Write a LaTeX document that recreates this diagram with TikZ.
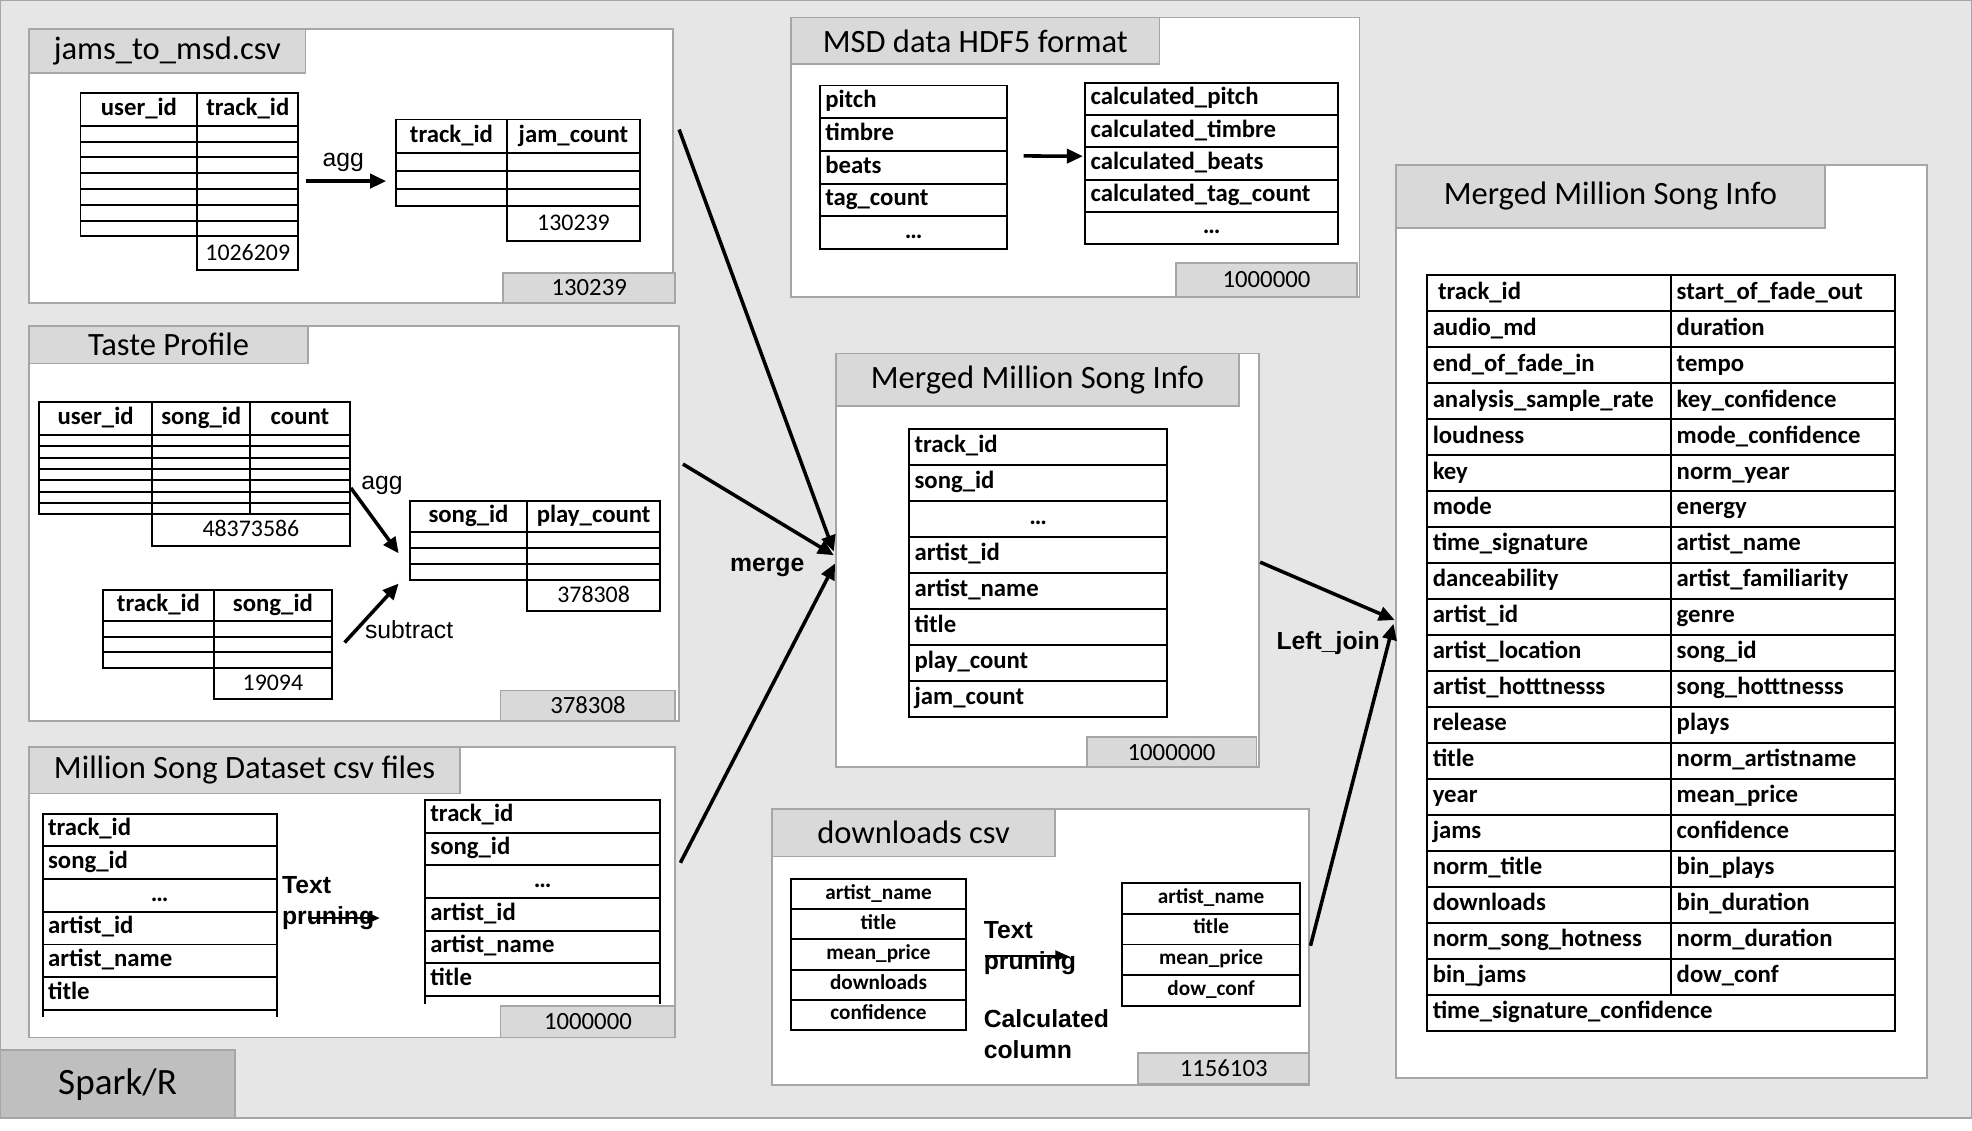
\documentclass[tikz,border=0pt]{standalone}
\usepackage{fontspec}
\setmainfont{Carlito}
\newfontfamily\arialfont{Liberation Sans}
\usepackage{tikz}
\usetikzlibrary{arrows.meta, positioning, calc}

\definecolor{bggray}{RGB}{230,230,230}
\definecolor{framegray}{RGB}{166,166,166}
\definecolor{tabgray}{RGB}{217,217,217}
\definecolor{sparkgray}{RGB}{191,191,191}
\newcommand{\pxu}{0.025cm}
\newcommand{\ctext}[1]{\hspace*{\fill}#1\hspace*{\fill}\mbox{}}

\tikzset{
    gridbox/.style 2 args={anchor=north west, minimum width=#1*\pxu, minimum height=#2*\pxu,
        inner sep=0pt, outer sep=0pt},
    panel/.style 2 args={gridbox={#1}{#2}, draw=framegray, line width=1pt, fill=white},
    tabbox/.style 2 args={gridbox={#1}{#2}, draw=framegray, line width=1pt, fill=tabgray,
        font=\fontsize{18.4}{22}\selectfont},
    countbox/.style 2 args={gridbox={#1}{#2}, draw=framegray, line width=1pt, fill=tabgray,
        font=\fontsize{14}{16}\selectfont},
    blank/.style 2 args={gridbox={#1}{#2}, draw, line width=1.1pt},
    cell/.style 2 args={blank={#1}{#2}, text height=9.5pt, text depth=3pt,
        font=\bfseries\fontsize{14}{16}\selectfont},
    lcell/.style 2 args={cell={#1}{#2}, text width=#1*\pxu-6pt, align=left},
    smallcell/.style 2 args={blank={#1}{#2}, text height=8pt, text depth=2.5pt,
        font=\bfseries\fontsize{12}{14}\selectfont},
    numcell/.style 2 args={blank={#1}{#2}, text height=9.5pt, text depth=2pt,
        font=\fontsize{13.5}{16}\selectfont}
}

\begin{document}
\begin{tikzpicture}[
    x=0.025cm, y=-0.025cm,
    lbl/.style={inner sep=0pt, font=\arialfont\fontsize{14}{17.5}\selectfont},
    boldlbl/.style={inner sep=0pt, font=\arialfont\bfseries\fontsize{14}{17.5}\selectfont, align=left},
    fat/.style={line width=2pt, -{Triangle[length=9pt, width=8pt]}},
    slim/.style={line width=1.3pt, -{Triangle[length=7pt, width=6pt]}}
]

\fill[white] (0,0) rectangle (1568,899);
\useasboundingbox (0,0) rectangle (1568,899);
\node[gridbox={1568}{889}, draw=framegray, line width=1.5pt, fill=bggray] (canvas) at (0,0) {};
\node[gridbox={187}{54}, draw=framegray, line width=1pt, fill=sparkgray,
    font=\fontsize{21}{24}\selectfont] (spark) at (0,835) {Spark/R};

% jams_to_msd.csv
\node[panel={512}{218}] (jams) at (23,23) {};
\node[tabbox={220}{35}] (jamsT) at (23,23) {jams\_to\_msd.csv};
\node[countbox={137}{24}] (jamsN) at (400,217) {130239};
\node[cell={93}{26}] (a1h1) at (64,74) {user\_id};
\node[cell={80}{26}] (a1h2) at (157,74) {track\_id};
\foreach \i in {0,...,6} {
    \node[blank={93}{12.57}] (a1l\i) at (64,100+12.57*\i) {};
    \node[blank={80}{12.57}] (a1r\i) at (157,100+12.57*\i) {};
}
\node[numcell={80}{27}] (a1n) at (157,188) {1026209};
\node[cell={88}{27}] (a2h1) at (315,95) {track\_id};
\node[cell={106}{27}] (a2h2) at (403,95) {jam\_count};
\foreach \i in {0,1,2} {
    \node[blank={88}{14}] (a2l\i) at (315,122+14*\i) {};
    \node[blank={106}{14}] (a2r\i) at (403,122+14*\i) {};
}
\node[numcell={106}{28}] (a2n) at (403,164) {130239};
\draw[fat] ($(a1r3.east)+(6,0)$) -- ($(a1r3.east -| a2l0.west)+(-8,0)$);
\node[lbl] (aggA) at (273,129) {agg};

% Taste Profile
\node[panel={517}{314}] (taste) at (23,259) {};
\node[tabbox={222}{30}] (tasteT) at (23,259) {Taste Profile};
\node[countbox={139}{24}] (tasteN) at (398,549) {378308};
\node[cell={90}{26}] (b1h1) at (31,320) {user\_id};
\node[cell={78}{26}] (b1h2) at (121,320) {song\_id};
\node[cell={79}{26}] (b1h3) at (199,320) {count};
\foreach \i in {0,...,6} {
    \node[blank={90}{9}] (b1a\i) at (31,346+9*\i) {};
    \node[blank={78}{9}] (b1b\i) at (121,346+9*\i) {};
    \node[blank={79}{9}] (b1c\i) at (199,346+9*\i) {};
}
\node[numcell={157}{25}] (b1n) at (121,409) {48373586};
\node[cell={93}{25}] (b2h1) at (326,398) {song\_id};
\node[cell={106}{25}] (b2h2) at (419,398) {play\_count};
\foreach \i in {0,1,2} {
    \node[blank={93}{12.7}] (b2a\i) at (326,423+12.7*\i) {};
    \node[blank={106}{12.7}] (b2b\i) at (419,423+12.7*\i) {};
}
\node[numcell={106}{25}] (b2n) at (419,461) {378308};
\node[cell={88}{25}] (b3h1) at (82,469) {track\_id};
\node[cell={94}{25}] (b3h2) at (170,469) {song\_id};
\foreach \i in {0,1,2} {
    \node[blank={88}{12.3}] (b3a\i) at (82,494+12.3*\i) {};
    \node[blank={94}{12.3}] (b3b\i) at (170,494+12.3*\i) {};
}
\node[numcell={94}{25}] (b3n) at (170,531) {19094};
\draw[fat] ($(b1c6.south east)+(1,-21)$) -- ($(b2h1.south west)+(-9,17)$);
\draw[fat] ($(b3b2.south east)+(10,-20)$) -- ($(b2h1.south west)+(-9,41)$);
\node[lbl, anchor=west] (aggB) at (287,386) {agg};
\node[lbl, anchor=west] (subtractB) at (290,501) {subtract};

% Million Song Dataset csv files
\node[panel={514}{231}] (msdcsv) at (23,594) {};
\node[tabbox={343}{37}] (msdcsvT) at (23,594) {Million Song Dataset csv files};
\node[countbox={139}{25}] (msdcsvN) at (398,800) {1000000};
\foreach \field [count=\i from 0] in {track\_id, song\_id, \ctext{\ldots}, artist\_id, artist\_name, title} {
    \node[lcell={186}{26}] (c1r\i) at (34,647+26*\i) {\field};
    \node[lcell={187}{26}] (c2r\i) at (338,636+26*\i) {\field};
}
\draw[line width=1.1pt] (c1r5.south west) -- ++(0,6) (c1r5.south east) -- ++(0,6);
\draw[line width=1.1pt] (c2r5.south west) -- ++(0,6) (c2r5.south east) -- ++(0,6);
\node[boldlbl, anchor=base west] (pruneC) at (224,735) {Text\\pruning};
\draw[slim] ($(c1r3.north east)+(25,5)$) -- ($(c2r3.west)+(-36,3)$);

% MSD data HDF5 format
\node[panel={452}{222}] (hdf) at (629,14) {};
\node[tabbox={293}{37}] (hdfT) at (629,14) {MSD data HDF5 format};
\node[countbox={144}{27}] (hdfN) at (935,209) {1000000};
\foreach \field [count=\i from 0] in {pitch, timbre, beats, tag\_count, \ctext{\ldots}} {
    \node[lcell={149}{26}] (d1r\i) at (652,68+26*\i) {\field};
}
\foreach \field [count=\i from 0] in {calculated\_pitch, calculated\_timbre, calculated\_beats,
        calculated\_tag\_count, \ctext{\ldots}} {
    \node[lcell={201}{25.6}] (d2r\i) at (863,66+25.6*\i) {\field};
}
\draw[fat] ($(d1r1.south east)+(13,4)$) -- ($(d2r1.south west)+(-2,7)$);

% Merged Million Song Info (middle)
\node[panel={336}{329}] (merged) at (665,281) {};
\node[tabbox={320}{42}] (mergedT) at (665,281) {Merged Million Song Info};
\node[countbox={135}{24}] (mergedN) at (864,586) {1000000};
\foreach \field [count=\i from 0] in {track\_id, song\_id, \ctext{\ldots}, artist\_id, artist\_name,
        title, play\_count, jam\_count} {
    \node[lcell={205}{28.6}] (er\i) at (723,341+28.6*\i) {\field};
}

% downloads csv
\node[panel={427}{220}] (downloads) at (614,643) {};
\node[tabbox={225}{38}] (downloadsT) at (614,643) {downloads csv};
\node[countbox={136}{25}] (downloadsN) at (905,837) {1156103};
\foreach \field [count=\i from 0] in {artist\_name, title, mean\_price, downloads, confidence} {
    \node[smallcell={139}{24}] (f1r\i) at (629,699+24*\i) {\field};
}
\foreach \field [count=\i from 0] in {artist\_name, title, mean\_price, dow\_conf} {
    \node[smallcell={142}{24.5}] (f2r\i) at (892,702+24.5*\i) {\field};
}
\node[boldlbl, anchor=base west] (pruneF) at (782,771) {Text\\pruning};
\draw[slim] ($(f1r2.north east)+(15,13)$) -- ($(f2r2.north west)+(-43,9)$);
\node[boldlbl, anchor=base west] (calcF) at (782,842) {Calculated\\column};

% Merged Million Song Info (final)
\node[panel={422}{726}] (final) at (1110,131) {};
\node[tabbox={341}{50}] (finalT) at (1110,131) {Merged Million Song Info};
\foreach \lname/\rname [count=\i from 0] in {\hspace*{3pt}track\_id/start\_of\_fade\_out,
        audio\_md/duration, end\_of\_fade\_in/tempo, analysis\_sample\_rate/key\_confidence,
        loudness/mode\_confidence, key/norm\_year, mode/energy, time\_signature/artist\_name,
        danceability/artist\_familiarity, artist\_id/genre, artist\_location/song\_id,
        artist\_hotttnesss/song\_hotttnesss, release/plays, title/norm\_artistname,
        year/mean\_price, jams/confidence, norm\_title/bin\_plays, downloads/bin\_duration,
        norm\_song\_hotness/norm\_duration, bin\_jams/dow\_conf} {
    \node[lcell={194}{28.6}] (gl\i) at (1135,219+28.6*\i) {\lname};
    \node[lcell={178}{28.6}] (gr\i) at (1329,219+28.6*\i) {\rname};
}
\node[lcell={372}{29}] (glast) at (1135,791) {time\_signature\_confidence};

% merge and join
\draw[fat] ($(jams.east)+(5,-29)$) -- ($(merged.west)+(-2,-7)$);
\draw[fat] ($(taste.east)+(3,-47)$) -- ($(merged.west)+(-2,-4)$);
\draw[fat] ($(msdcsv.east)+(4,-23.5)$) -- ($(merged.west)+(-1,2.5)$);
\node[boldlbl] (mergeL) at (610,451) {merge};
\draw[fat] ($(merged.east)+(1,1.5)$) -- ($(final.west)+(-1,-1)$);
\draw[fat] ($(downloads.east)+(1,-1)$) -- ($(final.west)+(-2,2)$);
\node[boldlbl] (joinL) at (1056,511) {Left\_join};

\end{tikzpicture}
\end{document}
